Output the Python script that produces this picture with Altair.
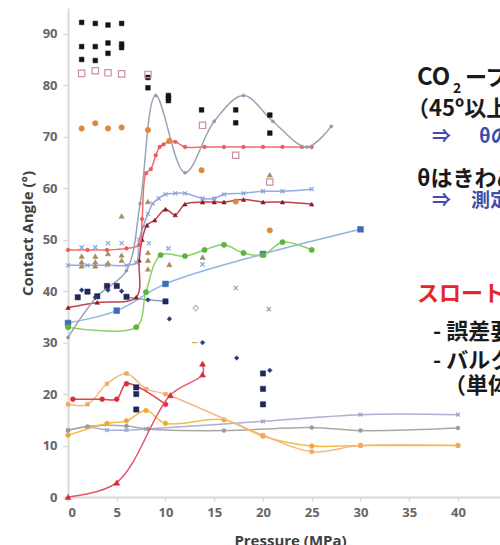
import altair as alt
import pandas as pd

# ---------------- data ----------------
# scatter-only series
black_x = [1.4, 2.8, 4.1, 5.5, 1.4, 2.8, 4.1, 5.5, 5.5, 4.1, 1.4, 2.8, 8.2, 8.2, 10.3, 10.3, 10.3, 13.7, 17.2, 17.2, 20.7, 20.7]
black_y = [92.2, 92.0, 91.7, 92.0, 87.5, 87.5, 88.2, 88.0, 87.3, 86.2, 85.0, 84.8, 81.5, 79.5, 78.0, 77.5, 77.0, 75.2, 75.2, 72.7, 74.2, 70.7]

pink_x = [1.4, 2.8, 4.1, 5.5, 8.2, 13.8, 17.2, 20.7]
pink_y = [82.3, 82.8, 82.4, 82.2, 82.1, 72.2, 66.4, 61.2]

orange_x = [1.4, 2.8, 4.1, 5.5, 8.2, 10.4, 13.7, 17.2, 20.7]
orange_y = [71.6, 72.6, 71.6, 71.8, 71.3, 69.2, 63.5, 57.4, 51.8]

olive_x = [1.4, 1.4, 1.4, 2.8, 2.8, 2.8, 4.1, 4.1, 5.5, 5.5, 5.5, 8.2, 8.2, 8.2, 8.2, 10.4, 13.8, 20.7]
olive_y = [46.8, 45.7, 44.9, 46.8, 45.7, 44.9, 47.3, 45.5, 54.6, 47.0, 46.0, 57.4, 47.5, 46.0, 44.3, 45.2, 46.6, 62.6]

ltblue_x = [1.4, 2.8, 4.1, 5.5, 8.3, 10.3, 13.8]
ltblue_y = [48.5, 48.5, 49.3, 49.3, 49.3, 48.3, 45.2]

grayx_x = [17.2, 20.6]
grayx_y = [40.6, 36.5]

navysq_x = [1.0, 2.0, 3.0, 4.0, 5.0, 6.0, 7.0, 7.0, 7.0, 10.0, 20.0, 20.0, 20.0]
navysq_y = [38.8, 39.9, 39.0, 41.0, 41.0, 38.9, 21.3, 20.0, 17.0, 38.0, 24.0, 21.0, 18.0]

navyd_x = [1.4, 2.8, 4.1, 5.5, 8.2, 10.4, 13.8, 17.3, 20.7]
navyd_y = [40.2, 38.8, 40.2, 40.0, 38.3, 34.6, 30.0, 27.0, 24.6]

graydia_x = [13.1]
graydia_y = [36.7]

dash_x = [13.0]
dash_y = [30.0]

# line series
osc_x = [0, 3, 6, 7.4, 9, 12, 15, 18, 21, 24.5, 27]
osc_y = [31, 39, 44, 57, 78, 63, 73, 78, 73, 68, 72]

red_x = [0, 2, 4, 6, 7.3, 7.6, 8.0, 8.5, 9.0, 9.4, 9.8, 10.3, 11, 12, 14, 16, 18, 20, 22, 24, 25]
red_y = [48, 48, 48, 48.3, 49, 54, 62.9, 63.7, 66.4, 68, 68.5, 69, 69, 68, 68, 68, 68, 68, 68, 68, 68]

peri_x = [0, 2, 4, 6, 7.0, 7.3, 7.7, 8.2, 8.7, 9.3, 10, 11, 12, 13.8, 15, 16, 18, 20, 22, 25]
peri_y = [45, 45, 45, 45, 45.5, 50, 52.5, 55, 57, 58, 58.8, 59, 59, 58, 58, 58.8, 59, 59.4, 59.4, 59.8]

maroon_x = [0, 3, 7, 7.3, 7.6, 8.1, 8.9, 10, 11, 12, 13.8, 15, 16, 18, 20, 22, 25]
maroon_y = [36.8, 37.8, 38.8, 46, 50, 52.8, 53.8, 55.9, 54.8, 56.9, 57.3, 57.3, 57.3, 57.8, 57.3, 57.3, 56.9]

green_x = [0, 7, 8, 9.5, 12, 14, 16, 18, 20, 22, 25]
green_y = [33, 33, 39.8, 47, 46.8, 48, 49, 47.4, 47, 49.5, 48]

steel_x = [0, 5, 10, 20, 30]
steel_y = [33.8, 36.2, 41.4, 47.2, 52]

navyline_x = [6, 8.2, 10]
navyline_y = [38.8, 38.3, 38]

redtri_x = [0, 5, 10.5, 13.8, 13.8]
redtri_y = [0, 2.8, 19.8, 23.8, 25.9]

redcirc_x = [0.5, 3.5, 5, 6, 10]
redcirc_y = [19, 19, 19, 22, 18]

peach_x = [0, 2, 4, 6, 8, 10, 20, 25, 30, 40]
peach_y = [18, 18, 22, 24, 21, 20, 12, 8.8, 10, 10]

yellow_x = [0, 4, 6, 8, 10, 16, 20, 25, 30, 40]
yellow_y = [12, 14.3, 14.8, 16.8, 14.3, 15, 11.8, 9.9, 10, 10]

graycirc_x = [0, 2, 6, 8.2, 16, 25, 30, 40]
graycirc_y = [12.9, 13.7, 13.8, 13.2, 12.9, 13.5, 12.9, 13.4]

lav_x = [0, 2, 4, 6, 8, 20, 30, 40]
lav_y = [13, 13.6, 13, 13, 13.2, 14.7, 16, 16]

x_ticks = [0, 5, 10, 15, 20, 25, 30, 35, 40]
y_ticks = [0, 10, 20, 30, 40, 50, 60, 70, 80, 90]

XSHAPE = "M-1,-1L1,1M-1,1L1,-1"

# (data, style) definitions
series = [
    (lav_x, lav_y, dict(line="#aab0d8", shape=XSHAPE, color="#9aa2d0", filled=False, size=14)),
    (graycirc_x, graycirc_y, dict(line="#a8a8a8", shape="circle", color="#9a9a9a", filled=True, size=16)),
    (yellow_x, yellow_y, dict(line="#f5bb4a", shape="circle", color="#f0a828", filled=True, size=22)),
    (peach_x, peach_y, dict(line="#f5b782", shape="square", color="#f2a763", filled=True, size=14)),
    (redcirc_x, redcirc_y, dict(line="#e04050", shape="circle", color="#dd2a3a", filled=True, size=24)),
    (redtri_x, redtri_y, dict(line="#e0566a", shape="triangle-up", color="#d8283a", filled=True, size=36)),
    (steel_x, steel_y, dict(line="#8fb6de", shape="square", color="#3e6db5", filled=True, size=34)),
    (navyline_x, navyline_y, dict(line="#8a9cc4", shape=None)),
    (green_x, green_y, dict(line="#8dd068", shape="circle", color="#5cb43c", filled=True, size=28)),
    (maroon_x, maroon_y, dict(line="#c2404a", shape="triangle-up", color="#8b1a24", filled=True, size=20)),
    (peri_x, peri_y, dict(line="#98aae0", shape=XSHAPE, color="#8b9fdc", filled=False, size=16)),
    (red_x, red_y, dict(line="#f26c6c", shape="circle", color="#ee5a5a", filled=True, size=14)),
    (osc_x, osc_y, dict(line="#9aa4b2", shape="circle", color="#8f99a8", filled=True, size=10)),
    (black_x, black_y, dict(line=None, shape="square", color="#141414", filled=True, size=22)),
    (pink_x, pink_y, dict(line=None, shape="square", color="#c9929e", filled=False, size=40)),
    (orange_x, orange_y, dict(line=None, shape="circle", color="#d98a3c", filled=True, size=30)),
    (olive_x, olive_y, dict(line=None, shape="triangle-up", color="#a48c5c", filled=True, size=28)),
    (ltblue_x, ltblue_y, dict(line=None, shape=XSHAPE, color="#88aad6", filled=False, size=18)),
    (grayx_x, grayx_y, dict(line=None, shape=XSHAPE, color="#a0a0a0", filled=False, size=18)),
    (navysq_x, navysq_y, dict(line=None, shape="square", color="#1f2858", filled=True, size=28)),
    (navyd_x, navyd_y, dict(line=None, shape="diamond", color="#2b3a78", filled=True, size=22)),
    (graydia_x, graydia_y, dict(line=None, shape="diamond", color="#b5b5b5", filled=False, size=30)),
    (dash_x, dash_y, dict(line=None, shape="stroke", color="#c8b040", filled=False, size=30)),
]

X = alt.X("x:Q",
          scale=alt.Scale(domain=[0, 44.31], nice=False, zero=False),
          axis=alt.Axis(values=x_ticks, title="Pressure (MPa)", grid=False,
                        domainColor="#d9d9d9", domainWidth=2, tickColor="#d9d9d9",
                        tickSize=4, tickWidth=1.5, labelColor="#666666", labelFont="Open Sans",
                        labelFontSize=13, labelFontWeight="bold", labelPadding=5,
                        titleFont="Open Sans", titleFontSize=15, titleFontWeight="bold",
                        titleColor="#404040", titleX=222, titleY=36, titleBaseline="top",
                        titleAlign="center"))
Y = alt.Y("y:Q",
          scale=alt.Scale(domain=[0, 95], nice=False, zero=False),
          axis=alt.Axis(values=y_ticks, title="Contact Angle (°)", grid=False,
                        domainColor="#d9d9d9", domainWidth=2, tickColor="#d9d9d9",
                        tickSize=5, tickWidth=1.5, labelColor="#666666", labelFont="Open Sans",
                        labelFontSize=13, labelFontWeight="bold", labelPadding=6,
                        titleFont="Open Sans", titleFontSize=15, titleFontWeight="bold",
                        titleColor="#404040", titleX=-41, titleY=225, titleAngle=270,
                        titleAlign="center", titleBaseline="middle"))

layers = []
for xs, ys, st in series:
    df = pd.DataFrame({"x": xs, "y": ys, "o": list(range(len(xs)))})
    base = alt.Chart(df)
    if st.get("line"):
        layers.append(base.mark_line(interpolate="catmull-rom", color=st["line"], strokeWidth=1.5)
                      .encode(x=X, y=Y, order="o:Q"))
    if st.get("shape"):
        kw = dict(shape=st["shape"], size=st["size"], opacity=1)
        if st["filled"]:
            kw.update(filled=True, fill=st["color"], stroke=st["color"], strokeWidth=0.5)
        else:
            kw.update(filled=False, stroke=st["color"], strokeWidth=1.2)
        layers.append(base.mark_point(**kw).encode(x=X, y=Y))

# ---------------- slide annotations (clipped at the right edge) ----------------
JP = "Noto Sans CJK JP"
one = pd.DataFrame({"k": [0]})


def txt(s, px, py, size, color="#1a1a1a"):
    return alt.Chart(one).mark_text(text=s, align="left", baseline="alphabetic", font=JP,
                                    fontSize=size, fontWeight="bold", color=color).encode(
        x=alt.value(px - 68), y=alt.value(py - 8))


BLUE = "#3d4fa8"
RED = "#e8242a"
layers += [
    txt("CO", 417, 85, 24),
    txt("2", 453, 93, 14),
    txt("ーブライン系の接触角", 465, 85, 22),
    txt("（45º以上の接触角）", 407, 116, 22),
    txt("⇒", 432, 143, 19, BLUE),
    txt("θの評価", 479, 143, 19, BLUE),
    txt("θはきわめて", 417, 186, 22),
    txt("⇒", 432, 207, 19, BLUE),
    txt("測定精度", 471, 207, 19, BLUE),
    txt("スロート", 417, 301, 22, RED),
    txt("- 誤差要因", 433, 339, 22),
    txt("- バルク", 433, 368, 22),
    txt("（単体", 444, 393, 22),
]

chart = alt.layer(*layers).properties(
    width=432, height=489,
    autosize=alt.AutoSizeParams(type="none"),
    padding={"left": 68, "top": 8, "right": 0, "bottom": 48},
    background="white",
).configure_view(stroke=None)

chart.save("out.html", embed_options={"renderer": "svg", "actions": False})
